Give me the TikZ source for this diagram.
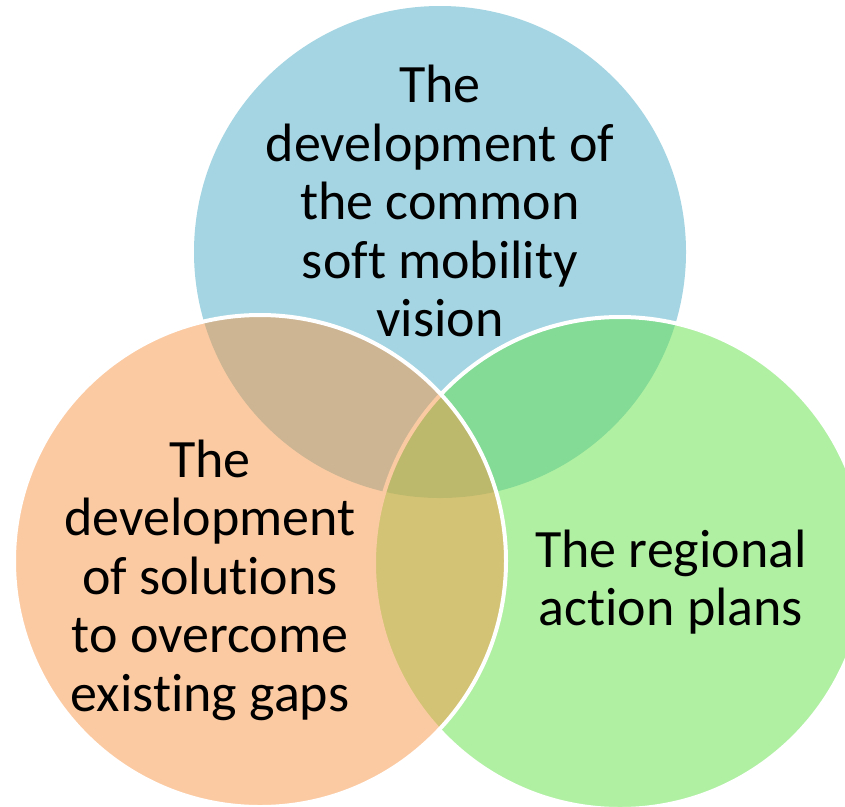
\documentclass[tikz,border=0pt]{standalone}
\usepackage{fontspec}
\setmainfont{Carlito}[Ligatures=NoCommon]
\definecolor{cblue}{HTML}{4BACC6}
\definecolor{corange}{HTML}{F79646}
\definecolor{cgreen}{HTML}{62E148}
\begin{document}
\begin{tikzpicture}[x=1pt,y=-1pt,
  venn/.style={fill opacity=0.5, draw opacity=1},
  lbl/.style={align=center, text=black, inner sep=0pt, font=\fontsize{54}{58.5}\selectfont}]
\useasboundingbox (0,0) rectangle (845,806);
\begin{scope}
\clip (0,0) rectangle (845,806);
\fill[venn, fill=cblue] (440,252) circle (246);
\filldraw[venn, fill=cgreen, draw=white, line width=4pt] (620,563) circle (246);
\filldraw[venn, fill=corange, draw=white, line width=4pt] (260,561) circle (246);
\end{scope}
\node[lbl] (top) at (440,201) {The\\development of\\the common\\soft mobility\\vision};
\node[lbl] (left) at (210,580) {The\\development\\of solutions\\to overcome\\existing gaps};
\node[lbl] (right) at (671,582) {The regional\\action plans};
\end{tikzpicture}
\end{document}
